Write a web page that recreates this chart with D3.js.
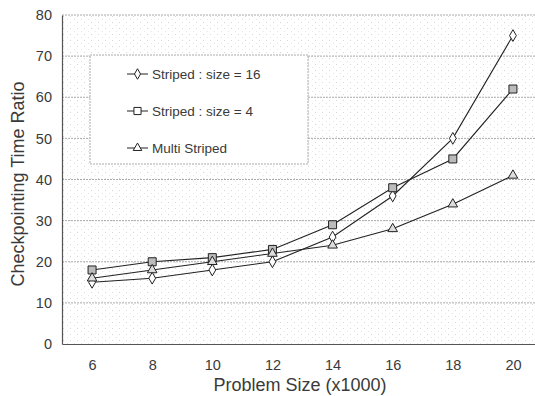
<!DOCTYPE html>
<html>
<head>
<meta charset="utf-8">
<script src="https://cdn.jsdelivr.net/npm/d3@7"></script>
<style>
  body { margin: 0; background: #fff; }
  text { font-family: "Liberation Sans", Arial, sans-serif; fill: #3a3a3a; }
</style>
</head>
<body>
<div id="chart"></div>
<script>
// data
const problemSizes = [6, 8, 10, 12, 14, 16, 18, 20];
const striped16 = [15, 16, 18, 20, 26, 36, 50, 75];
const striped4 = [18, 20, 21, 23, 29, 38, 45, 62];
const multiStriped = [16, 18, 20, 22, 24, 28, 34, 41];
const yTicks = [0, 10, 20, 30, 40, 50, 60, 70, 80];
const seriesNames = ["Striped : size = 16", "Striped : size = 4", "Multi Striped"];

const W = 535, H = 396;
const margin = {top: 15, right: 0, bottom: 52, left: 62};
const width = W - margin.left - margin.right;
const height = H - margin.top - margin.bottom;

const svg = d3.select("#chart").append("svg")
    .attr("width", W)
    .attr("height", H);

// stippled background like the scan
const defs = svg.append("defs");
const pat = defs.append("pattern")
    .attr("id", "stipple")
    .attr("width", 7).attr("height", 6)
    .attr("patternUnits", "userSpaceOnUse");
pat.append("rect").attr("width", 7).attr("height", 6).attr("fill", "#fff");
pat.append("rect").attr("x", 1).attr("y", 1).attr("width", 1).attr("height", 1).attr("fill", "#d6d6d6");
pat.append("rect").attr("x", 5).attr("y", 4).attr("width", 1).attr("height", 1).attr("fill", "#e6e6e6");

const g = svg.append("g")
    .attr("transform", "translate(" + margin.left + "," + margin.top + ")");

const x = d3.scaleLinear().domain([5, 21]).range([0, width + 8]);
const y = d3.scaleLinear().domain([0, 80]).range([height, 0]);

g.append("rect")
    .attr("width", width).attr("height", height)
    .attr("fill", "url(#stipple)");

// dashed gridlines
g.selectAll(".grid")
    .data(yTicks.slice(1))
    .enter().append("line")
        .attr("x1", 0).attr("x2", width)
        .attr("y1", d => y(d)).attr("y2", d => y(d))
        .attr("stroke", "#aaa")
        .attr("stroke-width", 1)
        .attr("stroke-dasharray", "2,1");

// legend box
g.append("rect")
    .attr("x", 90 - margin.left).attr("y", 55 - margin.top)
    .attr("width", 218).attr("height", 109)
    .attr("fill", "#fff")
    .attr("stroke", "#aaa")
    .attr("stroke-dasharray", "2,1");

// axes
const xAxis = g.append("g")
    .attr("transform", "translate(0," + height + ")")
    .call(d3.axisBottom(x).tickValues(problemSizes).tickSize(0).tickPadding(16));
const yAxis = g.append("g")
    .call(d3.axisLeft(y).tickValues(yTicks).tickSize(0).tickPadding(10));
[xAxis, yAxis].forEach(a => {
    a.select(".domain").attr("stroke", "#555").attr("stroke-width", 1.2);
    a.selectAll("text")
        .style("font-family", "'Liberation Sans', Arial, sans-serif")
        .style("font-size", "14.5px")
        .attr("fill", "#3a3a3a");
});

svg.append("text")
    .attr("x", 300).attr("y", 391)
    .attr("text-anchor", "middle")
    .style("font-size", "18px")
    .text("Problem Size (x1000)");

svg.append("text")
    .attr("transform", "translate(24," + 184 + ") rotate(-90)")
    .attr("text-anchor", "middle")
    .style("font-size", "18px")
    .text("Checkpointing Time Ratio");

const series = [
    {name: seriesNames[0], values: striped16, shape: d3.symbolDiamond, size: 40, fill: "#fff"},
    {name: seriesNames[1], values: striped4, shape: d3.symbolSquare, size: 64, fill: "#bbb"},
    {name: seriesNames[2], values: multiStriped, shape: d3.symbolTriangle, size: 40, fill: "#ddd"}
];

const line = d3.line()
    .x((d, i) => x(problemSizes[i]))
    .y(d => y(d));

series.forEach(s => {
    g.append("path")
        .datum(s.values)
        .attr("fill", "none")
        .attr("stroke", "#222")
        .attr("stroke-width", 1.1)
        .attr("d", line);
    g.selectAll(null)
        .data(s.values)
        .enter().append("path")
            .attr("transform", (d, i) => "translate(" + x(problemSizes[i]) + "," + y(d) + ")")
            .attr("d", d3.symbol().type(s.shape).size(s.size))
            .attr("fill", s.fill)
            .attr("stroke", "#222")
            .attr("stroke-width", 1);
});

// legend entries
const legend = svg.append("g");
series.forEach((s, i) => {
    const ly = 74 + i * 37;
    legend.append("line")
        .attr("x1", 127).attr("x2", 148)
        .attr("y1", ly).attr("y2", ly)
        .attr("stroke", "#222");
    legend.append("path")
        .attr("transform", "translate(137.5," + ly + ")")
        .attr("d", d3.symbol().type(s.shape).size(s.size * 0.8))
        .attr("fill", "#fff")
        .attr("stroke", "#222");
    legend.append("text")
        .attr("x", 152).attr("y", ly + 5)
        .style("font-size", "13.5px")
        .text(s.name);
});
</script>
</body>
</html>
